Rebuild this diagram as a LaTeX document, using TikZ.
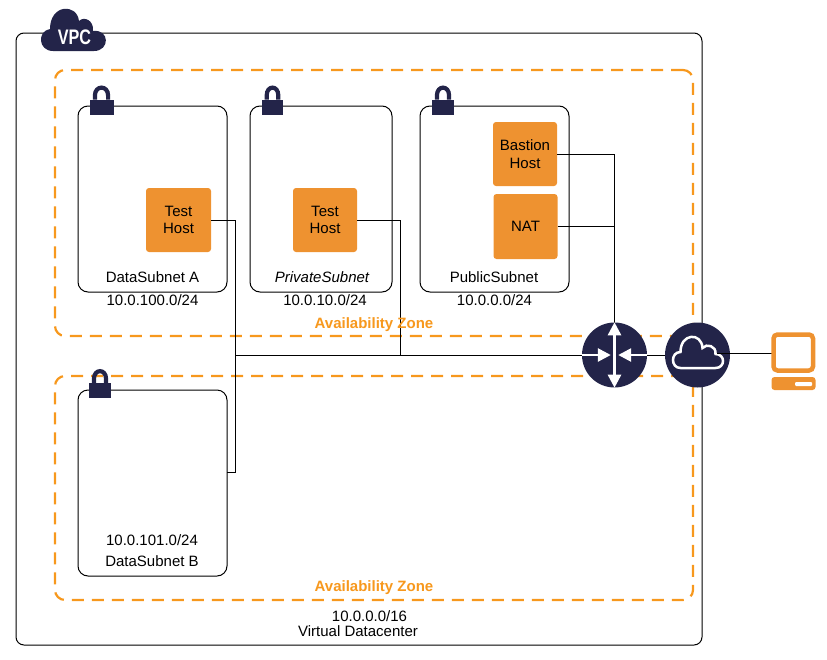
\documentclass[tikz,border=0pt]{standalone}
\usepackage{fontspec}
\setmainfont{Liberation Sans}
\usetikzlibrary{arrows.meta}
\definecolor{navy}{HTML}{232449}
\definecolor{awsorange}{HTML}{EE9230}
\definecolor{zoneorange}{HTML}{F7981D}
\tikzstyle{vpcbox} = [draw=black, line width=1pt, rectangle, rounded corners=8pt, inner sep=0pt]
\tikzstyle{zonebox} = [draw=zoneorange, dash pattern=on 12pt off 8pt, line width=2.2pt, rectangle, rounded corners=10pt, inner sep=0pt]
\tikzstyle{subnetbox} = [draw=black, line width=1pt, rectangle, rounded corners=10pt, inner sep=0pt]
\tikzstyle{hostbox} = [fill=awsorange, rectangle, rounded corners=3pt, inner sep=0pt, align=center, font=\fontsize{15}{17.5}\selectfont]
\tikzstyle{roundicon} = [fill=navy, circle, inner sep=0pt, minimum size=65pt]
\tikzstyle{caption} = [inner sep=0pt, font=\fontsize{15}{17}\selectfont, align=center]
\tikzstyle{zonetitle} = [inner sep=0pt, text=zoneorange, font=\fontsize{15}{17}\selectfont\bfseries]
\tikzstyle{wire} = [draw=black, line width=1pt]
\tikzstyle{whitearrow} = [draw=white, line width=2.6pt, -{Triangle[length=13pt,width=13pt]}]
\tikzset{
  padlock/.pic={
    \fill[navy] (-12,-7) rectangle (12,8);
    \draw[navy, line width=4.2pt] (-6.6,-7) -- (-6.6,-11) .. controls (-6.6,-21.5) and (6.6,-21.5) .. (6.6,-11) -- (6.6,-7);
  },
}
\newcommand{\cloudpath}{(-17,13) .. controls (-27,13) and (-27,-3) .. (-17,-3) .. controls (-17,-22) and (4,-23) .. (5,-7) .. controls (9,-12) and (19,-9) .. (18,-1) .. controls (28,-1) and (28,13) .. (18,13) -- cycle}
\begin{document}
\begin{tikzpicture}[x=1pt,y=-1pt]
\useasboundingbox (0,0) rectangle (827,659);
% boxes
\node [vpcbox, minimum width=686pt, minimum height=612pt] (vpc) at (359,339) {};
\node [zonebox, minimum width=638pt, minimum height=266pt] (zoneone) at (374,203) {};
\node [zonebox, minimum width=638pt, minimum height=224pt] (zonetwo) at (374,488) {};
\node [subnetbox, minimum width=149pt, minimum height=186pt] (subneta) at (152.5,199) {};
\node [subnetbox, minimum width=142pt, minimum height=186pt] (subnetp) at (321,199) {};
\node [subnetbox, minimum width=149pt, minimum height=186pt] (subnetq) at (494.5,199) {};
\node [subnetbox, minimum width=149pt, minimum height=186pt] (subnetb) at (152.5,483) {};
% locks
\pic at (101.5,106.5) {padlock};
\pic[xscale=.88] at (272.5,106.5) {padlock};
\pic[xscale=.92] at (443,106.5) {padlock};
\pic[xscale=.92] at (100,390) {padlock};
% hosts
\node [hostbox, minimum width=65pt, minimum height=64pt] (hosta) at (178.5,220) {Test\\Host};
\node [hostbox, minimum width=64pt, minimum height=64pt] (hostp) at (325,220) {Test\\Host};
\node [hostbox, minimum width=64pt, minimum height=64pt] (bastion) at (525,154) {Bastion\\Host};
\node [hostbox, minimum width=64pt, minimum height=65pt] (nat) at (525.5,226.5) {NAT};
% wires
\node [roundicon] (router) at (614.5,355) {};
\node [roundicon] (gateway) at (697.5,355) {};
\coordinate (busa) at (235.5,355);
\coordinate (busp) at (400,355);
\coordinate (drop) at (614.5,323);
\coordinate (subnetout) at (227,472);
\coordinate (cloudout) at (717,353);
\coordinate (screenin) at (772,353);
\draw [wire] (hosta.east) -| (busa);
\draw [wire] (subnetout) -| (busa) -- (router.west);
\draw [wire] (hostp.east) -| (busp);
\draw [wire] (bastion.east) -| (drop);
\draw [wire] (nat.east) -- (nat.east -| drop);
\draw [wire] (router.east) -- (gateway.west);
% icons on top
\draw [whitearrow] (router.center) -- (router.north);
\draw [whitearrow] (router.center) -- (router.south);
\draw [whitearrow] (router.west) -- ++(29,0);
\draw [whitearrow] (router.east) -- ++(-29,0);
\draw [draw=white, line width=2.5pt, shift={(gateway.center)}] \cloudpath;
\draw [wire] (cloudout) -- (screenin);
% vpc badge
\fill [navy, shift={(74,34)}] (-21,17) .. controls (-36,17) and (-37,-3) .. (-24,-5) .. controls (-24,-30) and (3,-31) .. (5,-13) .. controls (10,-18) and (20,-14) .. (19,-3) .. controls (36,-5) and (36,17) .. (20,17) -- cycle;
\node [inner sep=0pt, text=white, xscale=.77, font=\fontsize{21}{21}\selectfont\bfseries] (vpclabel) at (74.5,37.5) {VPC};
% computer
\draw [draw=awsorange, line width=4.5pt, rounded corners=4pt] (773.5,334.5) rectangle (813,370.5);
\fill [awsorange, rounded corners=3pt] (771.5,377) rectangle (815.5,390);
\fill [white, rounded corners=1pt] (795,382) rectangle (812,386);
% labels
\node [caption] (capa) at (152.5,277.5) {DataSubnet A};
\node [caption] (ipa) at (152.5,300.5) {10.0.100.0/24};
\node [caption] (capp) at (322,277.5) {\itshape PrivateSubnet};
\node [caption] (ipp) at (325,300.5) {10.0.10.0/24};
\node [caption] (capq) at (494,277.5) {PublicSubnet};
\node [caption] (ipq) at (494.5,300.5) {10.0.0.0/24};
\node [caption] (ipb) at (152,540.5) {10.0.101.0/24};
\node [caption] (capb) at (152,561.5) {DataSubnet B};
\node [zonetitle] (zonelabela) at (374,325) {Availability Zone};
\node [zonetitle] (zonelabelb) at (374,588) {Availability Zone};
\node [caption] (ipv) at (369.5,616) {10.0.0.0/16};
\node [caption] (capv) at (358,631) {Virtual Datacenter};
\end{tikzpicture}
\end{document}
